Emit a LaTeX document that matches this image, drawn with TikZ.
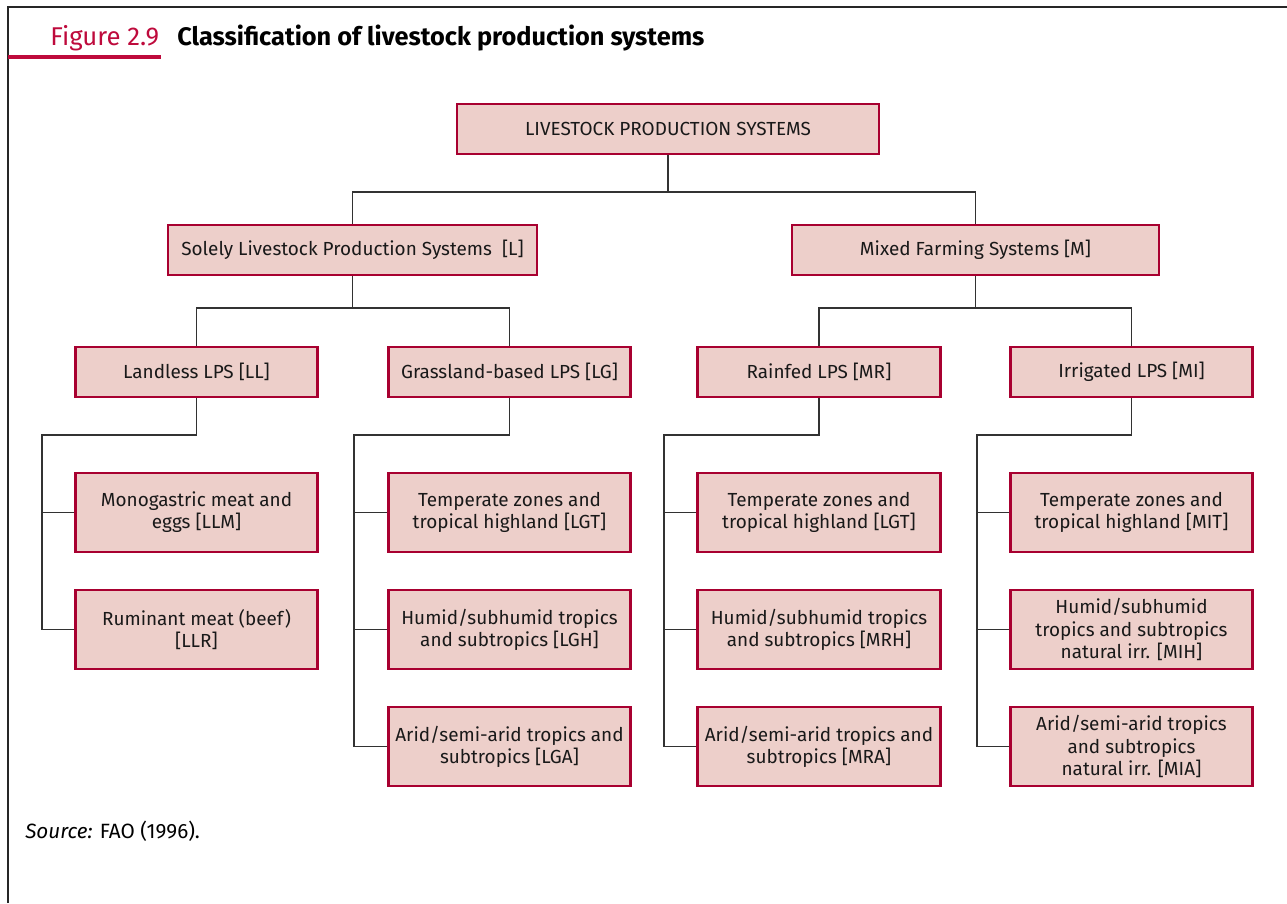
\documentclass[tikz,border=0pt]{standalone}
\usepackage{fontspec}
\setmainfont{Fira Sans}
\definecolor{lpsred}{RGB}{168,0,48}
\definecolor{lpsfill}{RGB}{237,207,202}
\definecolor{figred}{RGB}{190,10,60}
\definecolor{linegray}{RGB}{50,50,50}
\begin{document}
\begin{tikzpicture}[x=0.75pt,y=-0.75pt,
  box/.style={draw=lpsred, fill=lpsfill, line width=2.2pt, align=center, inner sep=0pt,
    font=\fontsize{14.2}{16.6}\selectfont, text=black!90},
  wbox/.style={box, minimum width=182pt},
  sbox/.style={wbox, minimum height=37.5pt},
  tbox/.style={wbox, minimum height=59.25pt},
  conn/.style={draw=linegray, line width=0.9pt},
  frame/.style={draw=black!85, line width=2.2pt}]
\useasboundingbox (0,0) rectangle (1287,903);
% frame
\draw[frame] (8,903) -- (8,7) -- (1287,7);
\draw[draw=figred, line width=2.4pt] (8,57) -- (161,57);
\node[anchor=base west, text=figred, font=\fontsize{19.3}{22}\selectfont, inner sep=0] (fig) at (50,45) {Figure 2.9};
\node[anchor=base west, font=\fontsize{19}{22}\selectfont\bfseries, inner sep=0] (title) at (177,45) {Classification of livestock production systems};
% level 0/1
\node[box, minimum width=316.5pt, minimum height=37.5pt] (top) at (668,129) {LIVESTOCK PRODUCTION SYSTEMS};
\node[box, minimum width=276.75pt, minimum height=37.5pt] (sole) at (352.5,250) {Solely Livestock Production Systems~~[L]};
\node[box, minimum width=275.25pt, minimum height=37.5pt] (mixed) at (975.5,250) {Mixed Farming Systems [M]};
% level 2
\node[sbox] (LL) at (196.5,372) {Landless LPS [LL]};
\node[sbox] (LG) at (509.5,372) {Grassland-based LPS [LG]};
\node[sbox] (MR) at (819,372) {Rainfed LPS [MR]};
\node[sbox] (MI) at (1131.5,372) {Irrigated LPS [MI]};
% level 3
\node[tbox] (LLM) at (196.5,512.5) {Monogastric meat and\\eggs [LLM]};
\node[tbox] (LLR) at (196.5,629.5) {Ruminant meat (beef)\\{}[LLR]};
\node[tbox] (LGT) at (509.5,512.5) {Temperate zones and\\tropical highland [LGT]};
\node[tbox] (LGH) at (509.5,629.5) {Humid/subhumid tropics\\and subtropics [LGH]};
\node[tbox] (LGA) at (509.5,746.5) {Arid/semi-arid tropics and\\subtropics [LGA]};
\node[tbox] (MRT) at (819,512.5) {Temperate zones and\\tropical highland [LGT]};
\node[tbox] (MRH) at (819,629.5) {Humid/subhumid tropics\\and subtropics [MRH]};
\node[tbox] (MRA) at (819,746.5) {Arid/semi-arid tropics and\\subtropics [MRA]};
\node[tbox] (MIT) at (1131.5,512.5) {Temperate zones and\\tropical highland [MIT]};
\node[tbox] (MIH) at (1131.5,629.5) {Humid/subhumid\\tropics and subtropics\\natural irr. [MIH]};
\node[tbox] (MIA) at (1131.5,746.5) {Arid/semi-arid tropics\\and subtropics\\natural irr. [MIA]};
% junctions
\coordinate (j0) at (668,192);
\coordinate (jS) at (352.5,308);
\coordinate (jM) at (975.5,308);
\coordinate (bLL) at (42,435);
\coordinate (bLG) at (354,435);
\coordinate (bMR) at (664,435);
\coordinate (bMI) at (977,435);
% connectors
\draw[conn] (top.south) -- (j0) -| (sole.north);
\draw[conn] (j0) -| (mixed.north);
\draw[conn] (sole.south) -- (jS) -| (LL.north);
\draw[conn] (jS) -| (LG.north);
\draw[conn] (mixed.south) -- (jM) -| (MR.north);
\draw[conn] (jM) -| (MI.north);
\draw[conn] (LL.south) |- (bLL) |- (LLR.west);
\draw[conn] (bLL |- LLM.west) -- (LLM.west);
\draw[conn] (LG.south) |- (bLG) |- (LGA.west);
\draw[conn] (bLG |- LGT.west) -- (LGT.west);
\draw[conn] (bLG |- LGH.west) -- (LGH.west);
\draw[conn] (MR.south) |- (bMR) |- (MRA.west);
\draw[conn] (bMR |- MRT.west) -- (MRT.west);
\draw[conn] (bMR |- MRH.west) -- (MRH.west);
\draw[conn] (MI.south) |- (bMI) |- (MIA.west);
\draw[conn] (bMI |- MIT.west) -- (MIT.west);
\draw[conn] (bMI |- MIH.west) -- (MIH.west);
% source
\node[anchor=base west, inner sep=0, font=\fontsize{15.5}{18}\selectfont] (src) at (25,838) {\textit{Source:} FAO (1996).};
\end{tikzpicture}
\end{document}
